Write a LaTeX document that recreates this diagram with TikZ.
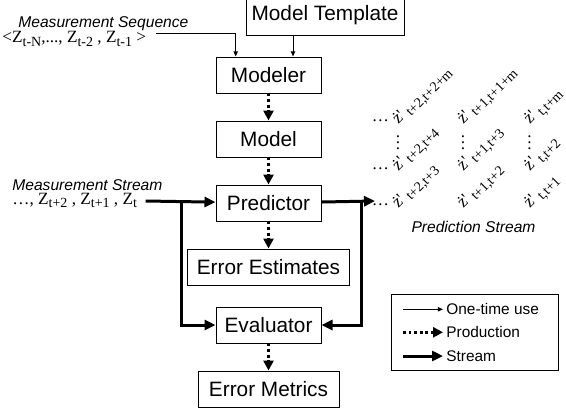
\documentclass[tikz,border=0pt]{standalone}
\usepackage{fontspec}
\setmainfont{Liberation Sans}
\newfontfamily\serfont{Liberation Serif}
\usepackage{tikz}
\usetikzlibrary{positioning, arrows.meta}
\newcommand{\sbs}[1]{\raisebox{-0.45ex}{\fontsize{7}{8}\selectfont #1}}
\newcommand{\vdts}{\vbox{\baselineskip3pt\lineskiplimit0pt\hbox{.}\hbox{.}\hbox{.}}}
\tikzset{
  block/.style={draw, line width=0.5pt, minimum width=52.5pt, minimum height=18pt, inner sep=1pt, font=\fontsize{10.4}{12}\selectfont},
  note/.style={inner sep=0pt, font=\fontsize{7.8}{9}\selectfont\itshape},
  series/.style={inner sep=0pt, font=\fontsize{8.6}{10}\selectfont\serfont},
  pred/.style={series, rotate=45, anchor=base west},
  legtext/.style={inner sep=1.5pt, font=\fontsize{7.7}{9}\selectfont},
  oneuse/.style={-{Triangle[length=2.6pt, width=2.2pt]}, line width=0.5pt},
  produce/.style={-{Triangle[length=5pt, width=5pt]}, line width=1.4pt, dash pattern=on 1.4pt off 1.4pt},
  stream/.style={-{Triangle[length=5.5pt, width=5pt]}, line width=1.5pt},
}
\begin{document}
\begin{tikzpicture}[x=0.5pt, y=-0.5pt, node distance=13.5pt]
  \useasboundingbox (0,0) rectangle (566,408);
  \node[block, minimum width=79pt, minimum height=19.5pt] (template) at (325,15.5) {Model Template};
  \node[block] (modeler) at (268.5,75) {Modeler};
  \node[block, below=of modeler] (model) {Model};
  \node[block, below=of model] (predictor) {Predictor};
  \node[block, below=of predictor, minimum width=81pt] (estimates) {Error Estimates};
  \node[block, below=10.5pt of estimates] (evaluator) {Evaluator};
  \node[block, below=of evaluator, minimum width=70.5pt] (metrics) {Error Metrics};

  \node[note, anchor=base west] (seqlabel) at (18,27.5) {Measurement Sequence};
  \node[series, anchor=base west] (seqvals) at (2,42.5) {<Z\sbs{t-N},..., Z\sbs{t-2} , Z\sbs{t-1} >};
  \coordinate (seqout) at (156,33);
  \draw[oneuse] (seqout) -| ([xshift=-16.4pt]modeler.north);
  \draw[oneuse] ([xshift=-16pt]template.south) -- ([xshift=-16pt]template.south |- modeler.north);

  \node[note, anchor=base west] (streamlabel) at (12,190.7) {Measurement Stream};
  \node[series, anchor=base west] (streamvals) at (12,204.3) {\ldots, Z\sbs{t+2} , Z\sbs{t+1} , Z\sbs{t}};
  \coordinate (streamin) at (145.7,201);
  \coordinate (leftsplit) at (181,201);
  \coordinate (rightsplit) at (361.7,201);
  \coordinate (predout) at (375,201);
  \draw[stream] (streamin) -- (predictor);
  \draw[stream] (predictor) -- (predout);
  \draw[stream] (leftsplit) |- (evaluator);
  \draw[stream] (rightsplit) |- (evaluator);

  \draw[produce] (modeler) -- (model);
  \draw[produce] (model) -- (predictor);
  \draw[produce] (predictor) -- (estimates);
  \draw[produce] (evaluator) -- (metrics);

  \foreach \xx/\yy/\sub/\nm in {398/125/{t+2,t+2+m}/p13, 463/125/{t+1,t+1+m}/p23, 529.5/125/{t,t+m}/p33,
      398/171.5/{t+2,t+4}/p12, 463/171.5/{t+1,t+3}/p22, 529.5/171.5/{t,t+2}/p32,
      398/209/{t+2,t+3}/p11, 463/209/{t+1,t+2}/p21, 529.5/209/{t,t+1}/p31}
    \node[pred] (\nm) at (\xx,\yy) {\.{z}'\hspace{2pt}\sbs{\sub}};
  \foreach \yy/\nm in {121/lead3, 169.5/lead2, 205/lead1}
    \node[series, anchor=base] (\nm) at (380.5,\yy) {\ldots};
  \foreach \xx/\nm in {398/vd1, 463/vd2, 529.5/vd3}
    \node[series] (\nm) at (\xx,143) {\vdts};
  \node[note, anchor=base] (predlabel) at (473.5,232) {Prediction Stream};

  \node[draw, line width=0.5pt, minimum width=83.5pt, minimum height=38pt, inner sep=0pt] (legend) at (474.5,332) {};
  \foreach \st/\lbl/\yy/\nm in {oneuse/One-time use/309.3/lgonce, produce/Production/332.3/lgprod, stream/Stream/356/lgstream} {
    \coordinate (\nm start) at (403,\yy);
    \node[legtext, anchor=west] (\nm) at (443,\yy) {\lbl};
    \draw[\st] (\nm start) -- (\nm);
  }
\end{tikzpicture}
\end{document}
